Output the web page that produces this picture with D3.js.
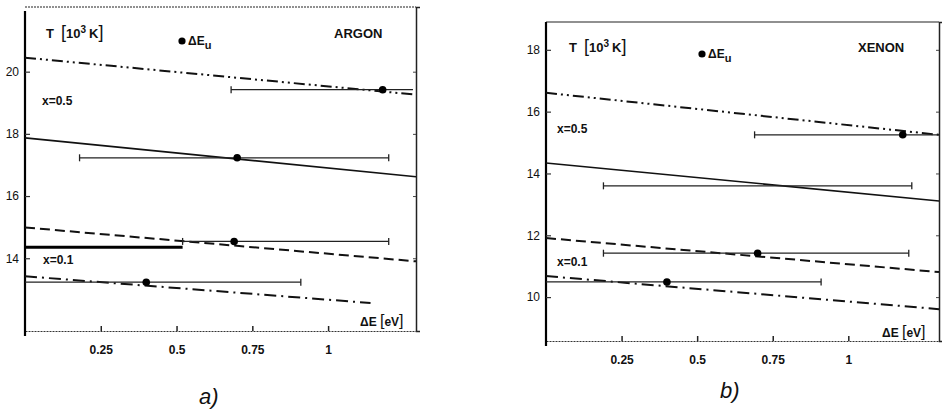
<!DOCTYPE html>
<html><head><meta charset="utf-8">
<script src="https://cdn.jsdelivr.net/npm/d3@7"></script>
<style>
body{margin:0;background:#fff}
svg{display:block}
text{font-family:"Liberation Sans",Arial,sans-serif;fill:#111}
</style>
</head><body><svg id="c" width="942" height="412"></svg>
<script>
// ---------- ARGON (panel a) ----------
const argonYTicks = [14, 16, 18, 20];
const argonXTicks = [0.25, 0.5, 0.75, 1];
const argonXTickLabels = ["0.25", "0.5", "0.75", "1"];
const argonLineStyles = ["dashdotdot", "solid", "dashed", "dashdot"];
const argonLineX0 = [0, 0, 0, 0];
const argonLineX1 = [1.29, 1.29, 1.29, 1.14];
const argonLineT0 = [20.45, 17.87, 14.99, 13.42];
const argonLineT1 = [19.26, 16.62, 13.90, 12.56];
const argonPointX = [1.18, 0.70, 0.69, 0.40];
const argonPointT = [19.42, 17.23, 14.54, 13.23];
const argonErrLow = [0.68, 0.18, 0.52, 0.00];
const argonErrHigh = [1.28, 1.20, 1.20, 0.91];
const argonRefX = [0, 0.52];
const argonRefT = [14.35, 14.35];

// ---------- XENON (panel b) ----------
const xenonYTicks = [10, 12, 14, 16, 18];
const xenonXTicks = [0.25, 0.5, 0.75, 1];
const xenonXTickLabels = ["0.25", "0.5", "0.75", "1"];
const xenonLineStyles = ["dashdotdot", "solid", "dashed", "dashdot"];
const xenonLineX0 = [0, 0, 0, 0];
const xenonLineX1 = [1.30, 1.30, 1.30, 1.30];
const xenonLineT0 = [16.61, 14.34, 11.91, 10.68];
const xenonLineT1 = [15.25, 13.11, 10.81, 9.61];
const xenonPointX = [1.18, null, 0.70, 0.40];
const xenonPointT = [15.25, 13.60, 11.42, 10.49];
const xenonErrLow = [0.69, 0.19, 0.19, 0.00];
const xenonErrHigh = [1.30, 1.21, 1.20, 0.91];

const dashes = {
  dashdotdot: "11,4,2,4,2,4",
  solid: null,
  dashed: "10,5",
  dashdot: "12,5,2,5"
};
const widths = {dashdotdot: 2, solid: 1.6, dashed: 2, dashdot: 2};

const svg = d3.select("#c");

function panel(cfg) {
  const x = d3.scaleLinear().domain(cfg.xDomain).range([cfg.left, cfg.right]);
  const y = d3.scaleLinear().domain(cfg.yDomain).range([cfg.bottom, cfg.top]);
  const g = svg.append("g");

  // frame: top
  g.append("line").attr("x1", cfg.left).attr("x2", cfg.right).attr("y1", cfg.top).attr("y2", cfg.top)
    .attr("stroke", "#222").attr("stroke-width", 1.2).attr("stroke-dasharray", cfg.topDash);

  // right axis (ticks only)
  const ra = g.append("g").attr("transform", `translate(${cfg.right},0)`)
    .call(d3.axisLeft(y).tickValues(cfg.yTicks).tickSize(-4).tickFormat(""));
  ra.select(".domain").attr("stroke", "#222").attr("stroke-width", 1.5);
  ra.selectAll(".tick line").attr("stroke", "#444").attr("x2", -3);

  // bottom axis
  const xa = g.append("g").attr("transform", `translate(0,${cfg.bottom})`)
    .call(d3.axisBottom(x).tickValues(cfg.xTicks).tickSizeInner(-5).tickSizeOuter(0).tickPadding(14)
      .tickFormat((d, i) => cfg.xLabels[i]));
  xa.select(".domain").attr("stroke", "#333").attr("stroke-width", 1).attr("stroke-dasharray", "2,1");
  xa.selectAll(".tick line").attr("stroke", "#222").attr("stroke-width", 1.5);
  xa.selectAll(".tick text").attr("font-size", 12).attr("font-weight", "bold")
    .attr("font-family", "'Liberation Sans',Arial,sans-serif").attr("fill", "#111");

  // left axis
  const ya = g.append("g").attr("transform", `translate(${cfg.left},0)`)
    .call(d3.axisLeft(y).tickValues(cfg.yTicks).tickSizeInner(-5).tickSizeOuter(0).tickPadding(6));
  ya.select(".domain").attr("stroke", "#000").attr("stroke-width", 2.2)
    .attr("d", `M0,${cfg.top + cfg.axisTopPad}V${cfg.bottom + 5}`);
  ya.selectAll(".tick line").attr("stroke", "#333").attr("stroke-width", 1.2);
  ya.selectAll(".tick text").attr("font-size", 12).attr("font-family", "'Liberation Sans',Arial,sans-serif")
    .attr("fill", "#111");

  // curves
  cfg.styles.forEach((s, i) => {
    g.append("line")
      .attr("x1", x(cfg.lx0[i])).attr("x2", x(cfg.lx1[i]))
      .attr("y1", y(cfg.lt0[i])).attr("y2", y(cfg.lt1[i]))
      .attr("stroke", "#111").attr("stroke-width", widths[s])
      .attr("stroke-dasharray", dashes[s]);
  });

  // reference thick line
  if (cfg.refX) {
    g.append("line").attr("x1", x(cfg.refX[0])).attr("x2", x(cfg.refX[1]))
      .attr("y1", y(cfg.refT[0])).attr("y2", y(cfg.refT[1]))
      .attr("stroke", "#000").attr("stroke-width", 3);
  }

  // error bars
  cfg.pT.forEach((t, i) => {
    const yy = y(t);
    g.append("line").attr("x1", x(cfg.eLo[i])).attr("x2", x(cfg.eHi[i]))
      .attr("y1", yy).attr("y2", yy).attr("stroke", "#222").attr("stroke-width", 1.2);
    [cfg.eLo[i], cfg.eHi[i]].forEach(v => {
      if (v > cfg.xDomain[0] + 0.01 && v < cfg.xDomain[1] - 0.01) {
        g.append("line").attr("x1", x(v)).attr("x2", x(v)).attr("y1", yy - 3.5).attr("y2", yy + 3.5)
          .attr("stroke", "#222").attr("stroke-width", 1.3);
      }
    });
    if (cfg.pX[i] != null) {
      g.append("circle").attr("cx", x(cfg.pX[i])).attr("cy", yy).attr("r", 3.8).attr("fill", "#000");
    }
  });

  // texts
  const t = cfg.text;
  const tl = g.append("text").attr("x", t.T[0]).attr("y", t.T[1]).attr("font-size", 13).attr("font-weight", "bold");
  tl.append("tspan").text("T");
  tl.append("tspan").attr("dx", 7).attr("font-size", 18).attr("font-weight", "normal").text("[");
  tl.append("tspan").text("10");
  tl.append("tspan").attr("dy", -5).attr("font-size", 10).text("3");
  tl.append("tspan").attr("dy", 5).attr("dx", 3).text("K");
  tl.append("tspan").attr("font-size", 18).attr("font-weight", "normal").text("]");

  g.append("circle").attr("cx", t.dot[0]).attr("cy", t.dot[1]).attr("r", 3.6).attr("fill", "#000");
  const de = g.append("text").attr("x", t.dot[0] + 6).attr("y", t.dot[1] + 4).attr("font-size", 12).attr("font-weight", "bold");
  de.append("tspan").text("ΔE");
  de.append("tspan").attr("dy", 4).attr("font-size", 11).text("u");

  g.append("text").attr("x", t.name[0]).attr("y", t.name[1]).attr("font-size", 13).attr("font-weight", "bold").text(cfg.name);
  g.append("text").attr("x", t.x05[0]).attr("y", t.x05[1]).attr("font-size", 12).attr("font-weight", "bold").text("x=0.5");
  g.append("text").attr("x", t.x01[0]).attr("y", t.x01[1]).attr("font-size", 12).attr("font-weight", "bold").text("x=0.1");
  const dl = g.append("text").attr("x", t.dE[0]).attr("y", t.dE[1]).attr("font-size", 12).attr("font-weight", "bold");
  dl.append("tspan").text("ΔE ");
  dl.append("tspan").attr("font-size", 16).attr("font-weight", "normal").text("[");
  dl.append("tspan").text("eV");
  dl.append("tspan").attr("font-size", 16).attr("font-weight", "normal").text("]");

  g.append("text").attr("x", t.lab[0]).attr("y", t.lab[1]).attr("font-size", 22).attr("font-style", "italic")
    .attr("font-family", "'Open Sans',sans-serif").text(cfg.label);
}

panel({
  name: "ARGON", label: "a)",
  xDomain: [0, 1.29], yDomain: [11.66, 22.08],
  left: 25, right: 416, top: 7, bottom: 331, axisTopPad: 4, topDash: "2,1",
  yTicks: argonYTicks, xTicks: argonXTicks, xLabels: argonXTickLabels,
  styles: argonLineStyles, lx0: argonLineX0, lx1: argonLineX1, lt0: argonLineT0, lt1: argonLineT1,
  pX: argonPointX, pT: argonPointT, eLo: argonErrLow, eHi: argonErrHigh,
  refX: argonRefX, refT: argonRefT,
  text: {T: [46, 38], dot: [182, 41], name: [334, 38], x05: [42, 105], x01: [43, 264], dE: [360, 326], lab: [199, 404]}
});

panel({
  name: "XENON", label: "b)",
  xDomain: [0, 1.30], yDomain: [8.58, 18.9],
  left: 546, right: 939, top: 22, bottom: 341, axisTopPad: 0, topDash: null,
  yTicks: xenonYTicks, xTicks: xenonXTicks, xLabels: xenonXTickLabels,
  styles: xenonLineStyles, lx0: xenonLineX0, lx1: xenonLineX1, lt0: xenonLineT0, lt1: xenonLineT1,
  pX: xenonPointX, pT: xenonPointT, eLo: xenonErrLow, eHi: xenonErrHigh,
  refX: null, refT: null,
  text: {T: [569, 52], dot: [702, 54], name: [858, 52], x05: [557, 133], x01: [557, 266], dE: [882, 337], lab: [720, 398]}
});
</script>
</body></html>
